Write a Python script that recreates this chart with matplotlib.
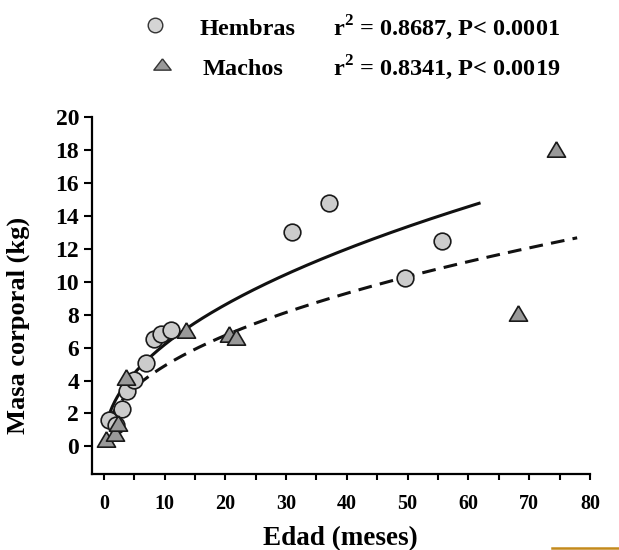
import matplotlib
matplotlib.use("Agg")
import matplotlib.pyplot as plt
import numpy as np
from matplotlib.lines import Line2D

# ---- data ----
hembras_x = [0.8, 2.0, 3.0, 3.8, 4.9, 7.0, 8.2, 9.4, 11.0, 31.0, 37.0, 49.5, 55.7]
hembras_y = [1.6, 1.3, 2.3, 3.35, 4.05, 5.05, 6.55, 6.85, 7.05, 13.0, 14.8, 10.25, 12.5]
machos_x = [0.4, 1.8, 2.3, 3.6, 13.5, 20.6, 21.8, 68.2, 74.4]
machos_y = [0.45, 0.8, 1.4, 4.2, 7.1, 6.85, 6.65, 8.1, 18.1]

# fitted power curves y = a * x**b
fem_a, fem_b, fem_xmax = 2.05, 0.479, 62.0
mal_a, mal_b, mal_xmax = 1.68, 0.464, 77.9

x_ticks = [0, 10, 20, 30, 40, 50, 60, 70, 80]
y_ticks = [0, 2, 4, 6, 8, 10, 12, 14, 16, 18, 20]

leg_names = ["Hembras", "Machos"]
leg_stats = [r"r$^{\mathbf{2}}$ = 0.8687, P< 0.0001", r"r$^{\mathbf{2}}$ = 0.8341, P< 0.0019"]

plt.rcParams['font.family'] = ['Liberation Serif', 'DejaVu Serif']
plt.rcParams['font.weight'] = 'bold'
plt.rcParams['mathtext.fontset'] = 'custom'
plt.rcParams['mathtext.rm'] = 'Liberation Serif:bold'
plt.rcParams['mathtext.bf'] = 'Liberation Serif:bold'

fig = plt.figure(figsize=(6.19, 5.5), dpi=100)
ax = fig.add_axes([0.148, 0.1376, 0.805, 0.6491])

circ_face = '#cccccc'
tri_face = '#999999'
edge = '#1a1a1a'
tri_marker = [(0, 0.85), (-1, -0.85), (1, -0.85), (0, 0.85)]
tri_leg = [(0, 0.65), (-1, -0.65), (1, -0.65), (0, 0.65)]

xf = np.linspace(1.0, fem_xmax, 300)
xm = np.linspace(1.0, mal_xmax, 300)
ax.plot(xf, fem_a * xf ** fem_b, color='#111111', lw=2.2, zorder=2, solid_capstyle='butt')
ax.plot(xm, mal_a * xm ** mal_b, color='#111111', lw=2.2, ls=(0, (4.5, 2.7)), zorder=2)

ax.plot(hembras_x, hembras_y, ls='none', marker='o', ms=12, mfc=circ_face, mec=edge, mew=1.2, zorder=3, clip_on=False)
ax.plot(machos_x, machos_y, ls='none', marker=tri_marker, ms=13, mfc=tri_face, mec=edge, mew=1.2, zorder=4, clip_on=False)

ax.set_xlim(-2, 80)
ax.set_ylim(-1.7, 20)
ax.set_xticks(x_ticks)
ax.set_xticks(np.arange(5, 80, 10), minor=True)
ax.set_yticks(y_ticks)
for s in ['top', 'right']:
    ax.spines[s].set_visible(False)
for s in ['left', 'bottom']:
    ax.spines[s].set_linewidth(1.6)
ax.tick_params(axis='x', which='major', direction='out', length=4.5, width=1.5, pad=10, labelsize=14.5)
ax.tick_params(axis='x', which='minor', direction='out', length=4.5, width=1.5)
ax.tick_params(axis='y', which='major', direction='out', length=6, width=1.5, pad=3, labelsize=17)
for lab in ax.get_xticklabels() + ax.get_yticklabels():
    lab.set_fontweight('bold')

ax.set_xlabel("Edad (meses)", fontsize=19.5, fontweight='bold')
ax.set_ylabel("Masa corporal (kg)", fontsize=19, fontweight='bold')
ax.xaxis.set_label_coords(0.5, -0.146, transform=ax.transAxes)
ax.yaxis.set_label_coords(-0.124, 0.418, transform=ax.transAxes)

# legend (manual)
fig.add_artist(Line2D([155 / 619], [1 - 25 / 550], marker='o', ms=10.5, mfc='#d4d4d4', mec='#333333', mew=1.0, ls='none', transform=fig.transFigure))
fig.add_artist(Line2D([162 / 619], [1 - 64 / 550], marker=tri_leg, ms=12.5, mfc=tri_face, mec='#333333', mew=1.0, ls='none', transform=fig.transFigure))
fig.text(200 / 619, 1 - 35 / 550, leg_names[0], fontsize=17.5, fontweight='bold', va='baseline', ha='left')
fig.text(203 / 619, 1 - 75 / 550, leg_names[1], fontsize=17.5, fontweight='bold', va='baseline', ha='left')
fig.text(333 / 619, 1 - 35 / 550, leg_stats[0], fontsize=17.5, fontweight='bold', va='baseline', ha='left')
fig.text(333 / 619, 1 - 75 / 550, leg_stats[1], fontsize=17.5, fontweight='bold', va='baseline', ha='left')

# small decorative line bottom-right
fig.add_artist(Line2D([552 / 619, 1.0], [1 - 547.7 / 550] * 2, color='#c48a1c', lw=1.8, transform=fig.transFigure))

fig.savefig("out.png", dpi=100)
